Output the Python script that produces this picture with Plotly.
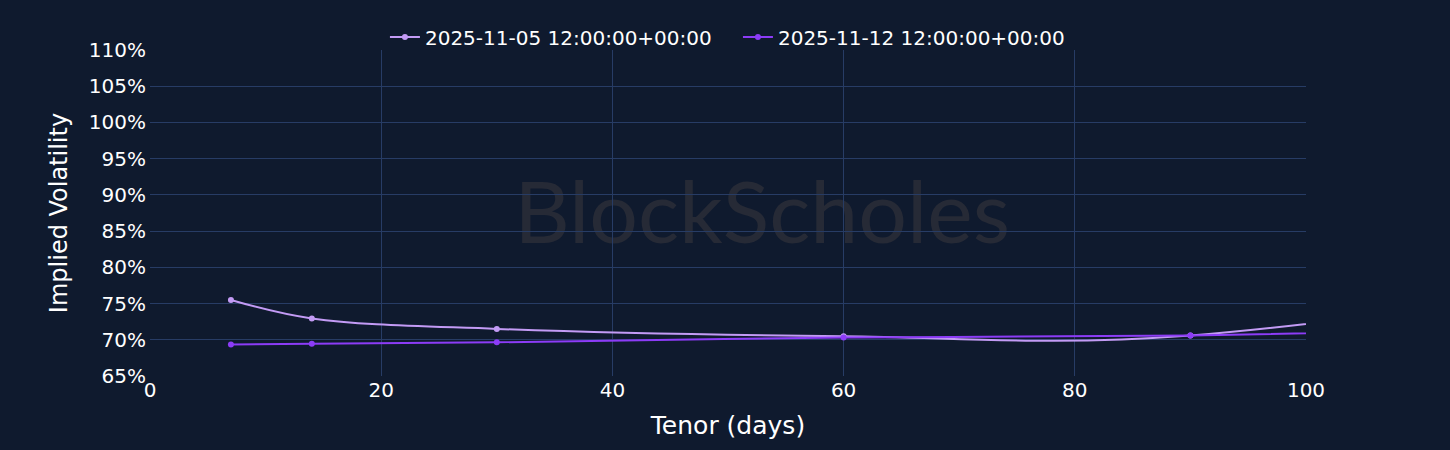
import plotly.graph_objects as go

tenor_days = [7, 14, 30, 60, 90, 180]
iv_2025_11_05 = [75.5, 72.95, 71.5, 70.5, 70.6, 92.0]
iv_2025_11_12 = [69.35, 69.45, 69.65, 70.3, 70.6, 73.2]
series_names = ["2025-11-05 12:00:00+00:00", "2025-11-12 12:00:00+00:00"]
y_ticks = [65, 70, 75, 80, 85, 90, 95, 100, 105, 110]
y_tick_labels = [f"{v}%" for v in y_ticks]

BG = "#0f1a2e"
GRID = "#273c65"

fig = go.Figure()
fig.add_trace(go.Scatter(
    x=tenor_days, y=iv_2025_11_05, name=series_names[0], mode="lines+markers",
    line=dict(color="#c39bf5", width=2, shape="spline"),
    marker=dict(size=6, color="#c39bf5"),
))
fig.add_trace(go.Scatter(
    x=tenor_days, y=iv_2025_11_12, name=series_names[1], mode="lines+markers",
    line=dict(color="#8c3cf7", width=2, shape="spline"),
    marker=dict(size=6, color="#8c3cf7"),
))

fig.add_shape(
    type="rect", xref="paper", yref="paper", x0=0.3095, x1=0.7495, y0=0.365, y1=0.665,
    line=dict(width=0), fillcolor="rgba(0,0,0,0)", layer="below",
    label=dict(text="BlockScholes", font=dict(size=86, color="#262a36", family="Lato"),
               textposition="middle center"),
)

fig.update_layout(
    width=1450, height=450,
    paper_bgcolor=BG, plot_bgcolor=BG,
    margin=dict(l=150, r=144, t=50, b=74),
    font=dict(family="DejaVu Sans", color="#ffffff", size=20),
    legend=dict(orientation="h", x=0.5086, xanchor="center", y=1.04, yanchor="middle",
                font=dict(family="DejaVu Sans", size=20, color="#ffffff"),
                bgcolor="rgba(0,0,0,0)", entrywidth=308),
    showlegend=True,
)
fig.update_xaxes(
    range=[0, 100], dtick=20, showgrid=True, gridcolor=GRID, zeroline=False,
    title=dict(text="Tenor (days)", font=dict(size=25)), tickfont=dict(size=20),
    showline=False, ticks="",
)
fig.update_yaxes(
    range=[65, 110], tickvals=y_ticks, ticktext=y_tick_labels, showgrid=True,
    gridcolor=GRID, zeroline=False,
    title=dict(text="Implied Volatility", font=dict(size=24), standoff=14),
    tickfont=dict(size=20), ticks="", ticklabelstandoff=3, showline=False,
)

fig.write_html(
    "out.html",
    config={"displayModeBar": False},
    post_script="document.body.style.margin='0';document.body.style.background='#0f1a2e';window.dispatchEvent(new Event('resize'));",
)
